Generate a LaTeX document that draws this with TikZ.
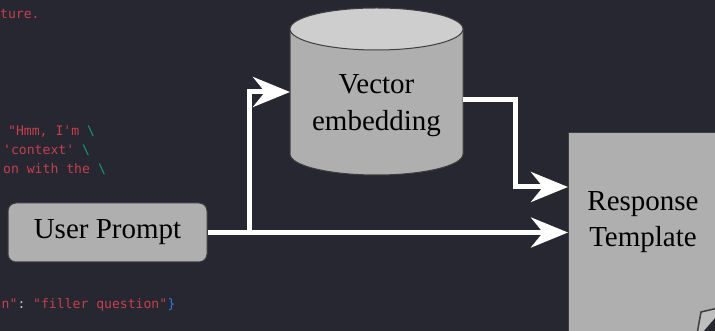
\documentclass[tikz,border=0pt]{standalone}
\usepackage{fontspec}
\setmainfont{Liberation Serif}
\setmonofont{DejaVu Sans Mono}
\usetikzlibrary{arrows.meta}
\definecolor{bgdark}{RGB}{39,39,49}
\definecolor{boxgray}{RGB}{175,175,175}
\definecolor{capgray}{RGB}{206,206,206}
\definecolor{edgegray}{RGB}{62,62,62}
\definecolor{curlgray}{RGB}{190,190,190}
\definecolor{codered}{RGB}{196,64,78}
\definecolor{codegreen}{RGB}{24,158,108}
\definecolor{codeblue}{RGB}{46,122,222}
\definecolor{codewhite}{RGB}{200,200,200}
\begin{document}
\begin{tikzpicture}[x=1pt,y=1pt,
  box/.style={draw=edgegray, line width=1pt, fill=boxgray},
  boxtext/.style={font=\fontsize{29}{36}\selectfont, align=center, inner sep=0pt},
  code/.style={font=\fontsize{13.1}{16}\ttfamily, anchor=base west, inner sep=0pt, text=codered},
  flow/.style={white, line width=5pt, -{Stealth[length=37pt,width=30pt,inset=12pt]}}]
\fill[bgdark] (0,0) rectangle (715,331);
\useasboundingbox (0,0) rectangle (715,331);
\clip (0,0) rectangle (715,331);

% code lines behind the diagram
\node[code] (c0) at (0,312) {ture.};
\node[code] (c1) at (8,195) {"Hmm, I'm};
\node[code, text=codegreen] (c1b) at (87,195) {\textbackslash};
\node[code] (c2) at (3,176) {'context'};
\node[code, text=codegreen] (c2b) at (82,176) {\textbackslash};
\node[code] (c3) at (3,157) {on with the};
\node[code, text=codegreen] (c3b) at (98,157) {\textbackslash};
\node[code] (c4) at (1.5,22) {n"};
\node[code, text=codewhite] (c4a) at (17.3,22) {:};
\node[code] (c4b) at (33,22) {"filler question"};
\node[code, text=codeblue] (c4c) at (167.3,22) {\}};

% cylinder
\fill[boxgray] (290,302) -- (290,177) arc[start angle=180, end angle=360, x radius=86.5, y radius=21] -- (463,302) -- cycle;
\draw[edgegray, line width=1pt] (290,302) -- (290,177) arc[start angle=180, end angle=360, x radius=86.5, y radius=21] -- (463,302);
\filldraw[fill=capgray, draw=edgegray, line width=1pt] (376.5,302) ellipse[x radius=86.5, y radius=21];
\node[boxtext, font=\fontsize{29}{37}\selectfont] (vec) at (376.5,225) {Vector\\embedding};

\node[box, boxtext, rounded corners=8pt, minimum width=199pt, minimum height=59pt] (prompt) at (107.5,98.5) {User Prompt};
\node[box, minimum width=152pt, minimum height=220pt, anchor=north west] (resp) at (568,199) {};
\node[boxtext] (resptext) at (643,109) {Response\\Template};

% folded corner
\filldraw[fill=curlgray, draw=edgegray, line width=1.5pt] (697,-3) -- (701,19) -- (718,23) -- (718,-3) -- cycle;
\fill[bgdark] (703,-1) -- (716,14) -- (716,-1) -- cycle;

\coordinate (split) at (249,98.5);
\coordinate (vecin) at (290,239);
\coordinate (vecout) at (463,231);
\coordinate (bend) at (515,144);

\draw[flow] (prompt.east) -- (prompt.east -| resp.west);
\draw[flow] (split) |- (vecin);
\draw[flow] (vecout) -| (bend) -- (bend -| resp.west);
\end{tikzpicture}
\end{document}
